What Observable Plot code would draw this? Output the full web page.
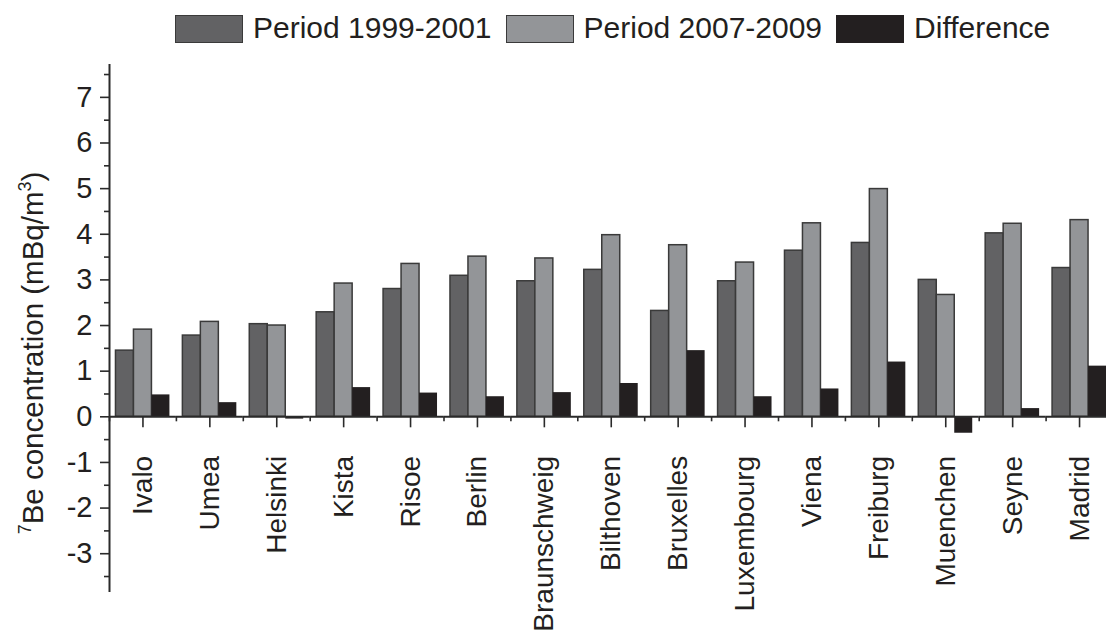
<!DOCTYPE html>
<html>
<head>
<meta charset="utf-8">
<script src="https://cdn.jsdelivr.net/npm/d3@7"></script>
<script src="https://cdn.jsdelivr.net/npm/@observablehq/plot@0.6"></script>
<style>
  html, body { margin: 0; padding: 0; background: #fff; }
  #wrap { width: 1106px; height: 632px; position: relative; overflow: hidden; font-family: "Liberation Sans", Arial, sans-serif; color: #231f20; }
  #legend { height: 56px; display: flex; align-items: flex-start; padding-left: 175px; box-sizing: border-box; padding-top: 15px; }
  .item { display: flex; align-items: center; margin-right: 14px; }
  .sw { width: 68px; height: 28px; box-sizing: border-box; border: 1.5px solid #3a3a3a; }
  .lab { font-size: 30px; line-height: 28px; margin-left: 10px; position: relative; top: -1px; white-space: nowrap; }
  svg { display: block; }
</style>
</head>
<body>
<div id="wrap">
  <div id="legend"></div>
  <div id="chart"></div>
</div>
<script>
const cities = ["Ivalo","Umea","Helsinki","Kista","Risoe","Berlin","Braunschweig","Bilthoven","Bruxelles","Luxembourg","Viena","Freiburg","Muenchen","Seyne","Madrid"];
const series = ["Period 1999-2001","Period 2007-2009","Difference"];
const period1 = [1.45,1.78,2.03,2.29,2.80,3.09,2.97,3.22,2.32,2.97,3.64,3.81,3.00,4.02,3.26];
const period2 = [1.91,2.08,2.00,2.92,3.35,3.51,3.47,3.98,3.76,3.38,4.24,4.99,2.67,4.23,4.31];
const difference = [0.48,0.31,-0.05,0.64,0.52,0.44,0.53,0.73,1.45,0.44,0.61,1.20,-0.36,0.18,1.11];
const colors = ["#626264","#939598","#231f20"];
const yTicks = [-3,-2,-1,0,1,2,3,4,5,6,7];
const yMinorTicks = [-3.5,-2.5,-1.5,-0.5,0.5,1.5,2.5,3.5,4.5,5.5,6.5,7.5];

// legend
const legend = d3.select("#legend");
series.forEach((s, i) => {
  const it = legend.append("div").attr("class", "item");
  it.append("div").attr("class", "sw").style("background", colors[i])
    .style("border-color", i === 2 ? colors[2] : "#3a3a3a");
  it.append("div").attr("class", "lab").text(s);
});

const rows = cities.flatMap((c, i) => [
  {city: c, series: series[0], value: period1[i]},
  {city: c, series: series[1], value: period2[i]},
  {city: c, series: series[2], value: difference[i]}
]);
const periodRows = rows.filter(d => d.series !== series[2]);
const diffRows = rows.filter(d => d.series === series[2]);

const fxRange = [109, 1112.5];
const fxStep = (fxRange[1] - fxRange[0]) / cities.length;
const ink = "#2a2a2a";
const fontFamily = "Liberation Sans, Arial, sans-serif";

const chart = Plot.plot({
  width: 1106,
  height: 576,
  marginTop: 8,
  marginBottom: 40,
  marginLeft: 109,
  marginRight: 0,
  style: {fontFamily, fontSize: "28px", color: "#231f20", background: "transparent", overflow: "hidden"},
  fx: {domain: cities, range: fxRange, padding: 0, round: false, axis: null},
  x: {domain: series, paddingInner: 0, paddingOuter: 0.36, round: false, axis: null},
  y: {domain: [-3.85, 7.72]},
  color: {domain: series, range: colors},
  marks: [
    Plot.barY(periodRows, {fx: "city", x: "series", y: "value", fill: "series", stroke: "#3a3a3a", strokeWidth: 1.5}),
    Plot.barY(diffRows, {fx: "city", x: "series", y: "value", fill: "series"}),
    Plot.ruleY([0], {stroke: ink, strokeWidth: 2}),
    // y axis line
    Plot.ruleX([cities[0]], {fx: d => d, x: null, dx: -fxStep / 2, stroke: ink, strokeWidth: 2}),
    // category ticks and boundary ticks on the zero line
    Plot.ruleX(cities, {fx: d => d, x: null, y1: 0, y2: 0, insetBottom: -11, stroke: ink, strokeWidth: 1.6}),
    Plot.ruleX(cities, {fx: d => d, x: null, y1: 0, y2: 0, insetBottom: -5, dx: -fxStep / 2, stroke: ink, strokeWidth: 1.6}),
    // category labels
    Plot.text(cities, {fx: d => d, y: 0, text: d => d, rotate: -90, textAnchor: "end", lineAnchor: "middle", dy: 39, fontSize: 28, fill: "#231f20"}),
    // y axis
    Plot.axisY(yTicks, {tickSize: 9, tickPadding: 8, tickFormat: d => String(d), fontSize: 29, stroke: ink, strokeWidth: 1.6, fill: "#231f20", label: null}),
    Plot.axisY(yMinorTicks, {tickSize: 5, tickFormat: () => "", stroke: ink, strokeWidth: 1.6, label: null})
  ]
});

document.getElementById("chart").appendChild(chart);

// y axis title with superscripts
const svg = d3.select(chart);
const t = svg.append("text")
  .attr("transform", `translate(43, ${353 - 56}) rotate(-90)`)
  .attr("text-anchor", "middle")
  .attr("font-family", fontFamily)
  .attr("font-size", 29.5)
  .attr("fill", "#231f20");
t.append("tspan").attr("font-size", 18).attr("dy", -12).text("7");
t.append("tspan").attr("dy", 12).text("Be concentration (mBq/m");
t.append("tspan").attr("font-size", 18).attr("dy", -12).text("3");
t.append("tspan").attr("dy", 12).text(")");
</script>
</body>
</html>
